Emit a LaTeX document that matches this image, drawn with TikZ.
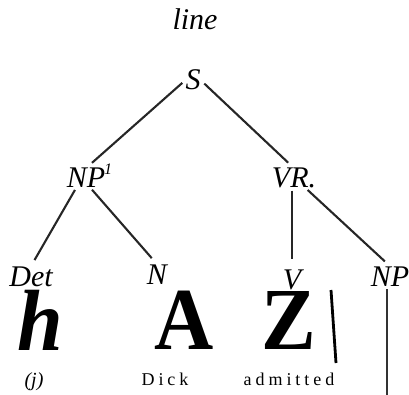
\documentclass[tikz,border=0pt]{standalone}
\usepackage{fontspec}
\setmainfont{Liberation Serif}
\begin{document}
\begin{tikzpicture}[x=1pt,y=-1pt,
  lab/.style={font=\fontsize{30}{32}\selectfont\itshape, inner sep=0pt, anchor=base},
  big/.style={font=\fontsize{82}{82}\selectfont\bfseries, inner sep=0pt, anchor=base},
  word/.style={font=\fontsize{18}{20}\selectfont\addfontfeature{LetterSpace=22}, inner sep=0pt, anchor=base},
  edge/.style={line width=2.1pt, draw=black!85}]
\useasboundingbox (0,0) rectangle (409,395);
\node[lab] (line) at (195,30) {line};
\node[lab] (S) at (193,90) {S};
\node[lab] (NP1) at (86,188) {NP};
\node[font=\fontsize{16}{18}\selectfont\itshape, inner sep=0pt, anchor=base west] (sup) at (104,175) {1};
\node[lab] (VR) at (294,188) {VR.};
\node[lab] (Det) at (31,286) {Det};
\node[lab] (N) at (157,284) {N};
\node[lab] (V) at (292,289) {V};
\node[lab] (NP2) at (390,286) {NP};
\node[big] (h) at (40,350) {\scalebox{1}[1.06]{\itshape h}};
\node[big] (A) at (184,349) {\scalebox{1}[1.08]{A}};
\node[big] (Z) at (289,349) {\scalebox{1}[1.08]{Z}};
\node[font=\fontsize{20}{22}\selectfont\itshape, inner sep=0pt, anchor=base] (j) at (34,386) {(j)};
\node[word] (Dick) at (165,385) {Dick};
\node[word] (adm) at (289,385) {admitted};
\coordinate (bsTop) at (331,290);
\coordinate (bsBot) at (336,363);
\coordinate (npEnd) at (387,395);
\draw[edge, shorten <=4pt, shorten >=8pt] (S.west) -- (NP1.north);
\draw[edge, shorten <=5pt, shorten >=8pt] (S.east) -- (VR.north);
\draw[edge, shorten <=2pt, shorten >=7pt] (NP1.225) -- (Det.north);
\draw[edge, shorten <=2pt, shorten >=8pt] (NP1.295) -- (N.north);
\draw[edge, shorten <=2pt, shorten >=10pt] (V.north |- VR.south) -- (V.north);
\draw[edge, shorten <=2pt, shorten >=7pt] (VR.320) -- (NP2.north);
\draw[line width=2.8pt] (bsTop) -- (bsBot);
\draw[line width=1.7pt, draw=black!80, shorten <=3pt] (npEnd |- NP2.south) -- (npEnd);
\end{tikzpicture}
\end{document}
